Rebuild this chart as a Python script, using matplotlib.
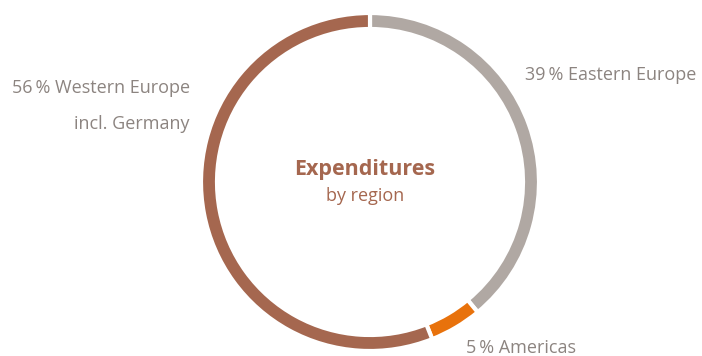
import matplotlib
matplotlib.use("Agg")
import matplotlib.pyplot as plt

regions = ["Eastern Europe", "Americas", "Western Europe"]
shares = [39, 5, 56]
colors = ["#b0a8a3", "#e8720c", "#a5674f"]

plt.rcParams['font.family'] = ['Open Sans', 'DejaVu Sans']

W, H = 702, 356
fig = plt.figure(figsize=(W / 100, H / 100), dpi=100)
ax = fig.add_axes([0, 0, 1, 1])


def Y(y):
    # top-down pixel row to axes y
    return H - y


cx, cy, r = 370, 182, 169
ax.pie(shares, colors=colors, startangle=90, counterclock=False,
       center=(cx, Y(cy)), radius=r, frame=True,
       wedgeprops=dict(width=16, edgecolor='white', linewidth=3))
ax.set_xlim(0, W)
ax.set_ylim(0, H)
ax.set_aspect('equal')
ax.axis('off')

txt = "#8c8480"
fs = 13
ax.text(525, Y(75), f"{shares[0]}\u2009% {regions[0]}", color=txt, fontsize=fs,
        ha='left', va='center')
ax.text(190, Y(88), f"{shares[2]}\u2009% {regions[2]}", color=txt, fontsize=fs,
        ha='right', va='center')
ax.text(190, Y(124), "incl. Germany", color=txt, fontsize=fs,
        ha='right', va='center')
ax.text(466, Y(348), f"{shares[1]}\u2009% {regions[1]}", color=txt, fontsize=fs,
        ha='left', va='center')

ax.text(365, Y(170), "Expenditures", color="#a5674f", fontsize=15.5,
        fontweight='bold', ha='center', va='center')
ax.text(365, Y(196), "by region", color="#a5674f", fontsize=13,
        ha='center', va='center')

fig.savefig("out.png", dpi=100)
